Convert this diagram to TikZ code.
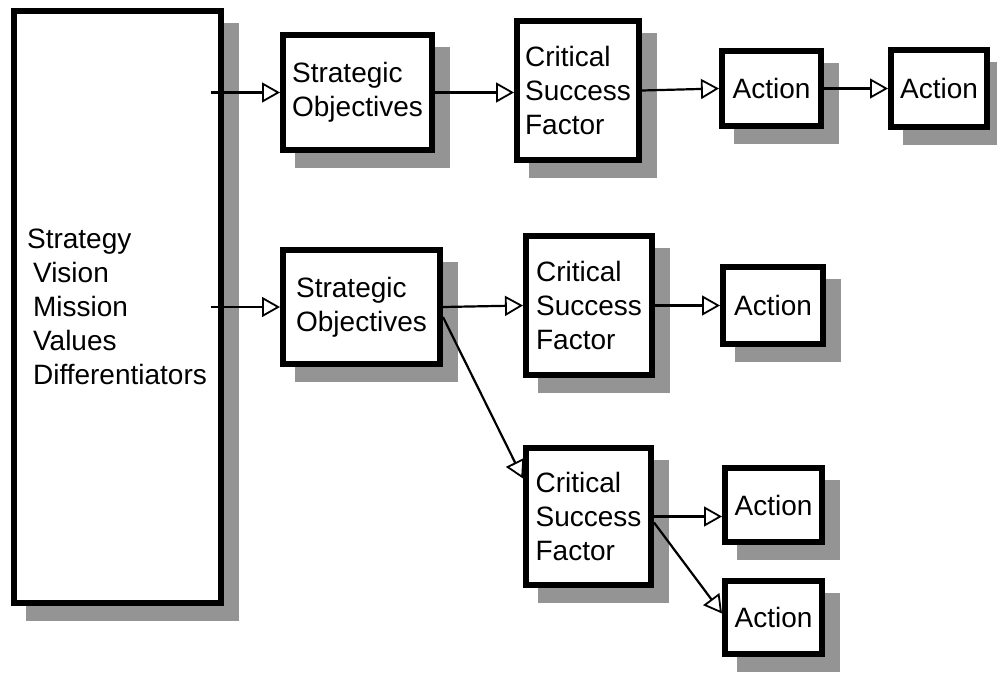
\documentclass[tikz,border=0pt]{standalone}
\usepackage{fontspec}
\setmainfont{Liberation Sans}
\usetikzlibrary{arrows.meta,backgrounds,calc}
\definecolor{shadowgray}{gray}{0.58}
\tikzset{
  box/.style 2 args={draw=black, fill=white, line width=6pt, rectangle,
    minimum width=#1, minimum height=#2, inner sep=2pt, align=left,
    font=\fontsize{28}{34}\selectfont},
  conn/.style={line width=2.2pt, -{Triangle[length=18pt,width=20pt,fill=white,line width=1.8pt]}},
  shadowfill/.style={fill=shadowgray}
}
\begin{document}
\begin{tikzpicture}[x=1pt,y=-1pt]
\useasboundingbox (0,0) rectangle (997,674);
% boxes
\node[box={207pt}{592pt}] (big) at (117,307) {Strategy\\\hspace{6pt}Vision\\\hspace{6pt}Mission\\\hspace{6pt}Values\\\hspace{6pt}Differentiators};
\node[box={149pt}{115pt}] (so1) at (357.5,92.5) {Strategic\\Objectives};
\node[box={122pt}{139pt}] (csf1) at (578,90.5) {Critical\\Success\\Factor};
\node[box={99pt}{75pt}] (a1) at (771.5,88.5) {Action};
\node[box={96pt}{77pt}] (a2) at (939,88.5) {Action};
\node[box={157pt}{114pt}] (so2) at (361.5,307) {Strategic\\Objectives};
\node[box={126pt}{139pt}] (csf2) at (589,305.5) {Critical\\Success\\Factor};
\node[box={100pt}{77pt}] (a3) at (773,305.5) {Action};
\node[box={125pt}{137pt}] (csf3) at (588.5,516.5) {Critical\\Success\\Factor};
\node[box={97pt}{74pt}] (a4) at (773.5,505) {Action};
\node[box={97pt}{73pt}] (a5) at (773.5,617.5) {Action};
% shadows
\begin{scope}[on background layer]
  \fill[white] (0,0) rectangle (997,674);
  \foreach \n in {big,so1,csf1,a1,a2,so2,csf2,a3,csf3,a4,a5}{
    \fill[shadowfill] ($(\n.north west)+(15,15)$) rectangle ($(\n.south east)+(15,15)$);
  }
\end{scope}
% connectors
\draw[conn] ($(big.east|-so1.west)+(-13,0)$) -- (so1.west);
\draw[conn] (so1.east) -- (so1.east -| csf1.west);
\draw[conn] (csf1.east) -- (a1.west);
\draw[conn] (a1.east) -- (a2.west);
\draw[conn] ($(big.east|-so2.west)+(-13,0)$) -- (so2.west);
\draw[conn] (so2.east) -- (csf2.west);
\draw[conn] (csf2.east) -- (a3.west);
\draw[conn] ($(so2.east)+(0,10)$) -- ($(csf3.west)+(0,-38)$);
\draw[conn] (csf3.east) -- (csf3.east -| a4.west);
\draw[conn] ($(csf3.east)+(0,6)$) -- ($(a5.west)+(0,-4)$);
\end{tikzpicture}
\end{document}
